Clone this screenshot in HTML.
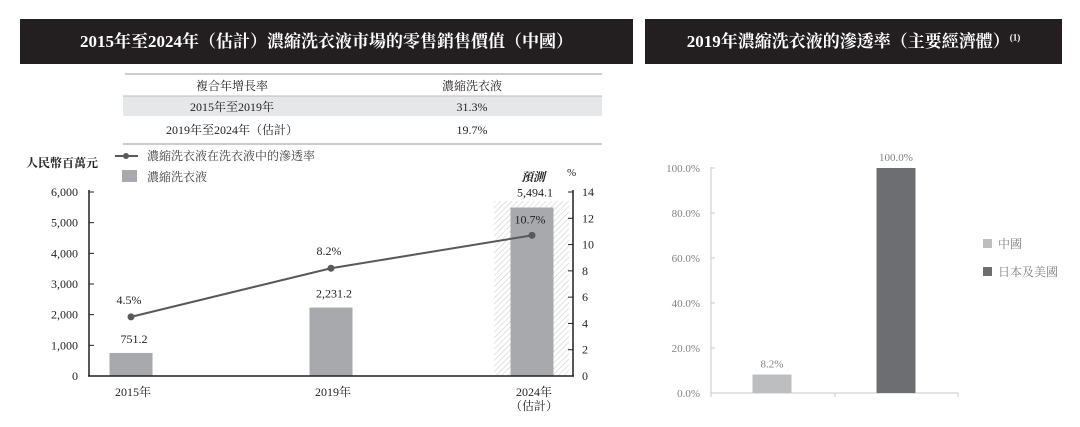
<!DOCTYPE html>
<html><head><meta charset="utf-8">
<style>
body{margin:0;width:1080px;height:427px;background:#fff;overflow:hidden;font-family:"Liberation Serif","Noto Serif CJK SC","Noto Sans CJK TC",serif;}
.hdr{position:absolute;top:19px;height:45px;background:#231f20;color:#fff;font-weight:bold;font-size:17px;line-height:45px;text-align:center;}
svg{position:absolute;left:0;top:0}
</style></head><body>
<div class="hdr" style="left:20px;width:613px;">2015年至2024年（估計）濃縮洗衣液市場的零售銷售價值（中國）</div>
<div class="hdr" style="left:645px;width:417px;">2019年濃縮洗衣液的滲透率（主要經濟體）<sup style="font-size:9px;line-height:0">(1)</sup></div>
<svg width="1080" height="427" font-family="Liberation Serif, Noto Serif CJK SC, serif">
<g id="table" font-size="12" fill="#231f20" text-anchor="middle">
<line x1="125" y1="74" x2="602" y2="74" stroke="#bbb" stroke-width="1.5"/>
<rect x="123" y="96" width="479" height="20" fill="#e6e7e8"/>
<line x1="123" y1="96" x2="602" y2="96" stroke="#bbb"/>
<line x1="123" y1="144" x2="602" y2="144" stroke="#bbb" stroke-width="1.5"/>
<text x="232" y="90">複合年增長率</text><text x="472" y="90">濃縮洗衣液</text>
<text x="232" y="111">2015年至2019年</text><text x="472" y="111">31.3%</text>
<text x="232" y="134">2019年至2024年（估計）</text><text x="472" y="134">19.7%</text>
</g>
<g id="left" font-size="12" fill="#231f20"></g>
<g id="right" font-size="11" fill="#808285"></g>
</svg>
<script>
const years=["2015年","2019年","2024年"];
const sales=[751.2,2231.2,5494.1];
const salesLabels=["751.2","2,231.2","5,494.1"];
const pen=[4.5,8.2,10.7];
const leftTicks=[0,1000,2000,3000,4000,5000,6000];
const rightTicks=[0,2,4,6,8,10,12,14];
const regions=["中國","日本及美國"];
const rates=[8.2,100.0];
const rateTicks=[0,20,40,60,80,100];
const NS="http://www.w3.org/2000/svg";
function mk(p,t,a,txt){const e=document.createElementNS(NS,t);for(const k in a)e.setAttribute(k,a[k]);if(txt!=null)e.textContent=txt;p.appendChild(e);return e;}
const L=document.getElementById('left');
const y0=376,y1=192;
const yL=v=>y0-(v/6000)*(y0-y1);
const yR=v=>y0-(v/14)*(y0-y1);
const xC=[131,331,532];
let e;
const defs=mk(L,'defs',{});
const pat=mk(defs,'pattern',{id:'h',width:4,height:4,patternUnits:'userSpaceOnUse',patternTransform:'rotate(45)'});
mk(pat,'line',{x1:0,y1:0,x2:0,y2:4,stroke:'#c9c9c9','stroke-width':1});
e=mk(L,'rect',{x:494,y:201,width:75,height:y0-201,fill:'url(#h)'});


sales.forEach((v,i)=>{
 e=mk(L,'rect',{x:xC[i]-21.5,y:yL(v),width:43,height:y0-yL(v),fill:'#a7a9ac'});
 
 
 e=mk(L,'text',{x:xC[i]+3,y:yL(v)-(i==2?11:10),'text-anchor':'middle'},salesLabels[i]);
 
 
 e=mk(L,'text',{x:xC[i]+2,y:396,'text-anchor':'middle'},years[i]);
 
 
});
e=mk(L,'text',{x:534,y:410,'text-anchor':'middle'},'（估計）');


mk(L,'line',{x1:89,y1:y1-2,x2:89,y2:y0,stroke:'#231f20','stroke-width':1.5});
mk(L,'line',{x1:88,y1:y0,x2:574,y2:y0,stroke:'#231f20','stroke-width':1.5});
mk(L,'line',{x1:573,y1:y1-2,x2:573,y2:y0,stroke:'#231f20','stroke-width':1.5});
leftTicks.forEach(t=>{
 mk(L,'line',{x1:89,y1:yL(t),x2:94,y2:yL(t),stroke:'#231f20'});
 e=mk(L,'text',{x:78,y:yL(t)+4,'text-anchor':'end'},t.toLocaleString('en-US'));
 
 
});
rightTicks.forEach(t=>{
 mk(L,'line',{x1:568,y1:yR(t),x2:573,y2:yR(t),stroke:'#231f20'});
 e=mk(L,'text',{x:582,y:yR(t)+4},String(t));
 
 
});
e=mk(L,'polyline',{points:pen.map((v,i)=>xC[i]+','+yR(v)).join(' '),fill:'none',stroke:'#58595b','stroke-width':2});


pen.forEach((v,i)=>{
 e=mk(L,'circle',{cx:xC[i],cy:yR(v),r:3.5,fill:'#58595b'});
 
 
 e=mk(L,'text',{x:xC[i]-2,y:yR(v)-(i==2?12:13),'text-anchor':'middle'},v.toFixed(1)+'%');
 
 
});
mk(L,'line',{x1:115,y1:156,x2:138,y2:156,stroke:'#58595b','stroke-width':2});
mk(L,'circle',{cx:126,cy:156,r:3,fill:'#58595b'});
e=mk(L,'text',{x:147,y:160,fill:'#414042'},'濃縮洗衣液在洗衣液中的滲透率');


mk(L,'rect',{x:122,y:170,width:15,height:12,fill:'#a7a9ac'});
e=mk(L,'text',{x:147,y:181,fill:'#414042'},'濃縮洗衣液');


e=mk(L,'text',{x:26,y:167,'font-weight':'bold'},'人民幣百萬元');


e=mk(L,'text',{x:567,y:176,'font-size':11},'%');


e=mk(L,'text',{x:521,y:181,'font-weight':'bold','font-style':'italic'},'預測');


const R=document.getElementById('right');
const r0=393,r1=168;
const yP=v=>r0-(v/100)*(r0-r1);
const rx=[772,896],rc=['#bcbec0','#6d6e71'];
mk(R,'line',{x1:711,y1:r1-1,x2:711,y2:r0+3,stroke:'#c8c8c8'});
mk(R,'line',{x1:711,y1:r0,x2:958,y2:r0,stroke:'#c8c8c8'});
[711,835,958].forEach(x=>mk(R,'line',{x1:x,y1:r0,x2:x,y2:r0+4,stroke:'#c8c8c8'}));
rateTicks.forEach(t=>{
 mk(R,'line',{x1:711,y1:yP(t),x2:715,y2:yP(t),stroke:'#c8c8c8'});
 e=mk(R,'text',{x:700,y:yP(t)+4,'text-anchor':'end'},t.toFixed(1)+'%');
 
 
});
rates.forEach((v,i)=>{
 e=mk(R,'rect',{x:rx[i]-19.5,y:yP(v),width:39,height:r0-yP(v),fill:rc[i]});
 
 
 e=mk(R,'text',{x:rx[i],y:yP(v)-7,'text-anchor':'middle'},v.toFixed(1)+'%');
 
 
 mk(R,'rect',{x:983,y:239+i*28,width:9,height:9,fill:rc[i]});
 e=mk(R,'text',{x:998,y:248+i*28,'font-size':12},regions[i]);
 
 
});
</script>
</body></html>
